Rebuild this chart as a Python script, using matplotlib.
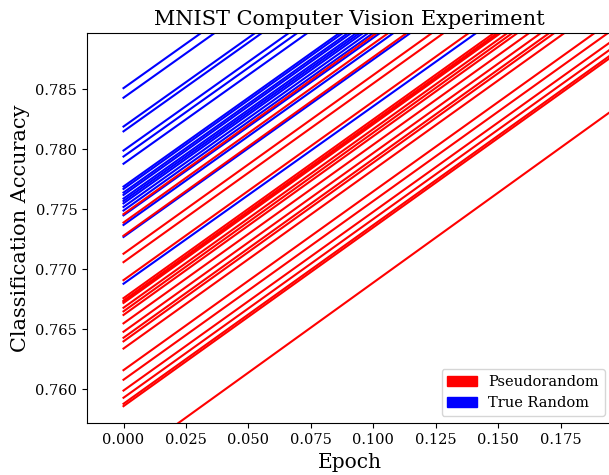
import matplotlib
matplotlib.use("Agg")
import matplotlib.pyplot as plt
import matplotlib.patches as mpatches

plt.rcParams['font.family'] = 'DejaVu Serif'

epochs = [0, 1]

# accuracy at epoch 0 and epoch 1 for each run
true_start = [0.7851, 0.7843, 0.7819, 0.7815, 0.7799, 0.7794, 0.7788, 0.7769,
              0.7767, 0.7764, 0.7762, 0.7759, 0.7757, 0.7755, 0.7752, 0.7749,
              0.7745, 0.7737, 0.7727, 0.7688]
true_end = [0.9331, 0.9323, 0.9299, 0.9295, 0.9279, 0.9274, 0.9268, 0.9249,
            0.9247, 0.9244, 0.9242, 0.9239, 0.9237, 0.9235, 0.9232, 0.9229,
            0.9225, 0.9217, 0.9207, 0.9168]

pseudo_start = [0.7746, 0.7739, 0.7728, 0.7713, 0.7706, 0.7691, 0.7676, 0.7674,
                0.7673, 0.7672, 0.7668, 0.7665, 0.7662, 0.7655, 0.7648, 0.7643,
                0.7640, 0.7634, 0.7616, 0.7608, 0.7599, 0.7593, 0.7588, 0.7586,
                0.7539]
pseudo_end = [0.9236, 0.9229, 0.9218, 0.9203, 0.9196, 0.9181, 0.9166, 0.9164,
              0.9163, 0.9162, 0.9158, 0.9155, 0.9152, 0.9145, 0.9138, 0.9133,
              0.9130, 0.9124, 0.9106, 0.9098, 0.9089, 0.9083, 0.9078, 0.9076,
              0.9039]

fig = plt.figure(figsize=(6.09, 4.75), dpi=100)
ax = fig.add_axes([0.1429, 0.1088, 0.862, 0.8211])

for a, b in zip(true_start, true_end):
    ax.plot(epochs, [a, b], color='b')
for a, b in zip(pseudo_start, pseudo_end):
    ax.plot(epochs, [a, b], color='r')

ax.set_xlim(-0.0146, 0.1955)
ax.set_ylim(0.75717, 0.78967)
ax.set_xticks([0.0, 0.025, 0.05, 0.075, 0.1, 0.125, 0.15, 0.175])
ax.set_xticklabels(['0.000', '0.025', '0.050', '0.075', '0.100', '0.125', '0.150', '0.175'])
ax.set_yticks([0.760, 0.765, 0.770, 0.775, 0.780, 0.785])
ax.set_yticklabels(['0.760', '0.765', '0.770', '0.775', '0.780', '0.785'])
ax.tick_params(labelsize=10.5)

ax.set_title('MNIST Computer Vision Experiment', fontsize=15)
ax.set_xlabel('Epoch', fontsize=14.5)
ax.set_ylabel('Classification Accuracy', fontsize=15)

red_patch = mpatches.Patch(color='red', label='Pseudorandom')
blue_patch = mpatches.Patch(color='blue', label='True Random')
ax.legend(handles=[red_patch, blue_patch], loc='lower right', fontsize=10.5)

fig.savefig('out.png', dpi=100)
